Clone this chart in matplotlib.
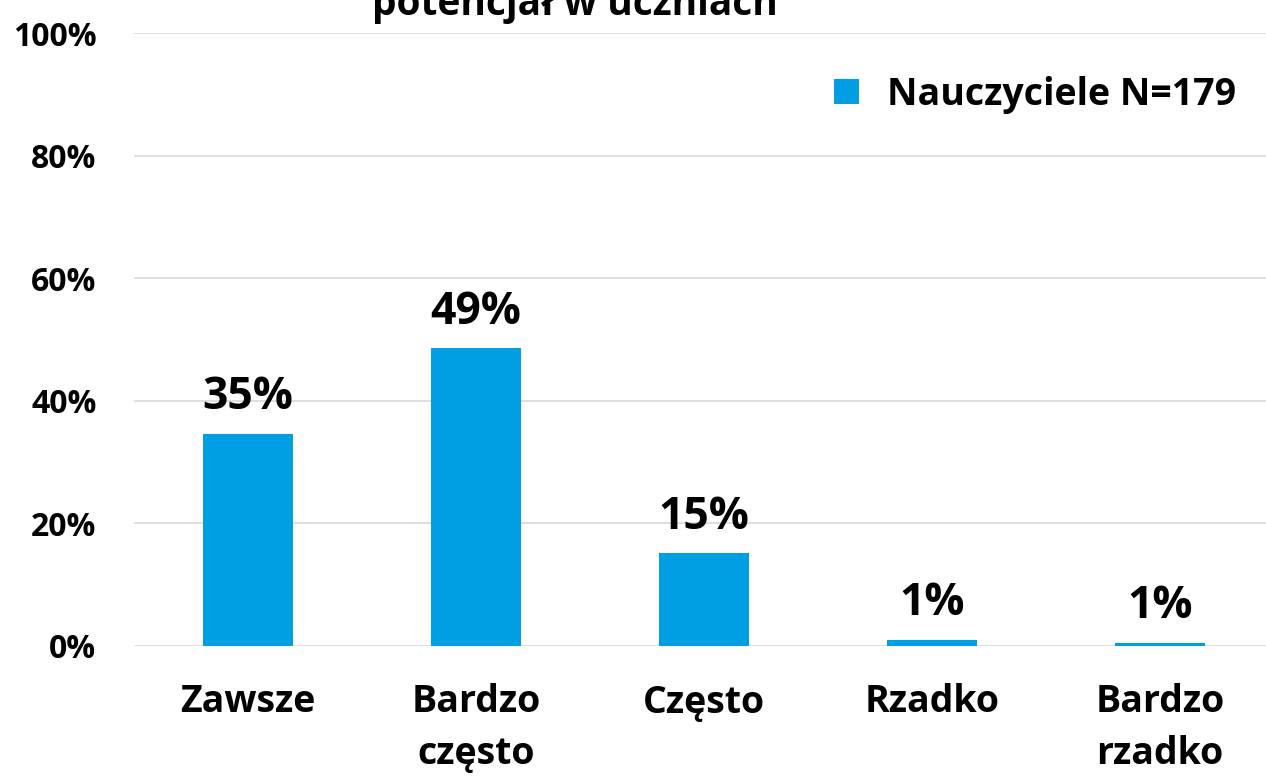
import matplotlib.pyplot as plt
import numpy as np

categories = ["Zawsze", "Bardzo\nczęsto", "Często", "Rzadko", "Bardzo\nrzadko"]
values = [34.6, 48.6, 15.1, 1.0, 0.5]
value_labels = ["35%", "49%", "15%", "1%", "1%"]
yticks = [0, 20, 40, 60, 80, 100]
series_name = "Nauczyciele N=179"

plt.rcParams['font.family'] = ['Open Sans', 'DejaVu Sans']

fig = plt.figure(figsize=(12.66, 7.82), dpi=100)
ax = fig.add_axes([134 / 1266, 1 - 646 / 782, (1274 - 134) / 1266, (646 - 33) / 782])

x = np.arange(len(categories))
ax.bar(x, values, width=0.395, color="#009fe3", label=series_name, zorder=3)

for xi, v, lab in zip(x, values, value_labels):
    ax.text(xi, v + 2.2, lab, ha="center", va="bottom", fontsize=32, fontweight="bold")

ax.set_xlim(-0.5, len(categories) - 0.5)
ax.set_ylim(0, 100)
ax.set_yticks(yticks)
ax.set_yticklabels([f"{t}%" for t in yticks], fontsize=23, fontweight="bold")
ax.set_xticks(x)
ax.set_xticklabels(categories, fontsize=27, fontweight="bold", va="top", linespacing=1.45)
ax.tick_params(axis="both", length=0)
ax.tick_params(axis="x", pad=27)
ax.tick_params(axis="y", pad=27)

ax.grid(axis="y", color="#d9d9d9", linewidth=1.2, zorder=0)
for s in ax.spines.values():
    s.set_visible(False)

ax.legend(loc="upper right", bbox_to_anchor=(0.996, 0.985), frameon=False,
          prop={"size": 27, "weight": "bold"}, handlelength=0.65, handleheight=0.65,
          handletextpad=0.75)

fig.text(575 / 1266, 1 - 15 / 782, "potencjał w uczniach", ha="center", va="baseline",
         fontsize=28, fontweight="bold")

fig.savefig("out.png", dpi=100)
